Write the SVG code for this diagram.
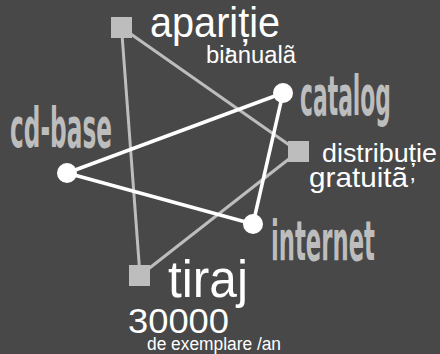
<svg xmlns="http://www.w3.org/2000/svg" width="440" height="354" viewBox="0 0 440 354">
<style>
.bg{fill:#484848}
.sq{fill:#bdbdbd}
.dot{fill:#ffffff}
.gl{stroke:#bdbdbd;stroke-width:3;fill:none}
.wl{stroke:#ffffff;stroke-width:3.5;fill:none}
.w{fill:#ffffff;font-family:"Liberation Sans",Arial,sans-serif}
.c{fill:#bdbdbd;font-family:"DejaVu Sans Condensed","DejaVu Sans",sans-serif;font-weight:bold}
</style>
<rect class="bg" x="0" y="0" width="440" height="354"/>
<g id="connectors">
<line class="gl" x1="121.5" y1="27.5" x2="298.5" y2="151.5"/>
<line class="gl" x1="121.5" y1="27.5" x2="140" y2="275.5"/>
<line class="gl" x1="140" y1="275.5" x2="298.5" y2="151.5"/>
<line class="wl" x1="67" y1="173" x2="283" y2="93"/>
<line class="wl" x1="67" y1="173" x2="253" y2="224"/>
<line class="wl" x1="283" y1="93" x2="253" y2="224"/>
</g>
<g id="aparitie">
<rect class="sq" x="111" y="17" width="21" height="21"/>
<text class="w" x="150" y="37" font-size="42" textLength="130" lengthAdjust="spacingAndGlyphs">apariție</text>
<text class="w" x="206" y="63" font-size="23" textLength="90" lengthAdjust="spacingAndGlyphs">bianualã</text>
<text class="w" x="225" y="63" font-size="22" font-weight="bold">’</text>
</g>
<g id="distributie">
<rect class="sq" x="288" y="141" width="21" height="21"/>
<text class="w" x="322" y="162" font-size="26" textLength="115" lengthAdjust="spacingAndGlyphs">distribuție</text>
<text class="w" x="309" y="187" font-size="28" textLength="99" lengthAdjust="spacingAndGlyphs">gratuitã</text>
<text class="w" x="410" y="195" font-size="24">’</text>
</g>
<g id="tiraj">
<rect class="sq" x="129" y="265" width="21" height="21"/>
<text class="w" x="168" y="297" font-size="51" textLength="80" lengthAdjust="spacingAndGlyphs">tiraj</text>
<text class="w" x="128" y="333" font-size="35" textLength="101" lengthAdjust="spacingAndGlyphs">30000</text>
<text class="w" x="147" y="350" font-size="18" textLength="134" lengthAdjust="spacingAndGlyphs">de exemplare /an</text>
</g>
<g id="catalog">
<circle class="dot" cx="283" cy="93" r="10"/>
<text class="c" x="300" y="115" font-size="56" textLength="91" lengthAdjust="spacingAndGlyphs">catalog</text>
</g>
<g id="cd-base">
<circle class="dot" cx="67" cy="173" r="10"/>
<text class="c" x="10" y="147" font-size="56" textLength="102" lengthAdjust="spacingAndGlyphs">cd-base</text>
</g>
<g id="internet">
<circle class="dot" cx="253" cy="224" r="10"/>
<text class="c" x="271" y="260" font-size="56" textLength="104" lengthAdjust="spacingAndGlyphs">internet</text>
</g>
</svg>
